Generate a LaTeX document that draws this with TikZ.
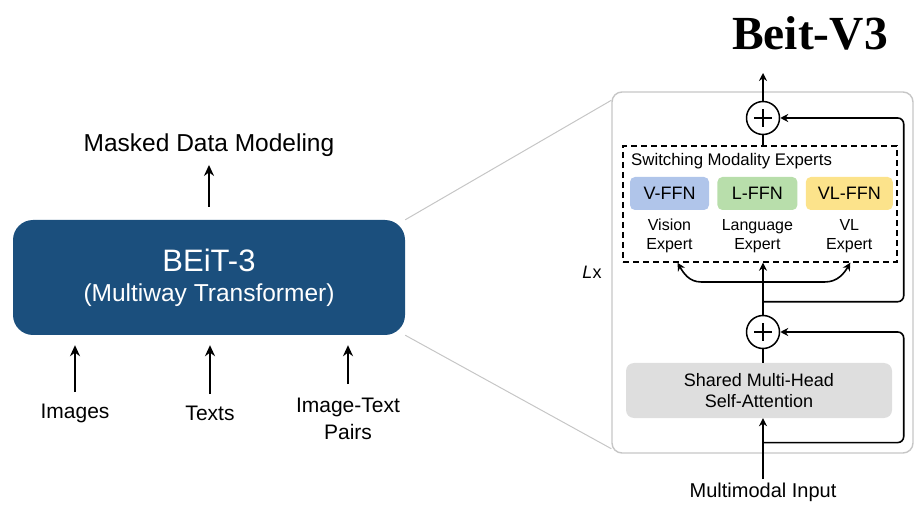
\documentclass[tikz,border=0pt]{standalone}
\usepackage{fontspec}
\setmainfont{Liberation Sans}
\newfontfamily\titlefont{Liberation Serif}
\usetikzlibrary{arrows.meta, positioning, calc}
\definecolor{beitblue}{HTML}{1B4F7D}
\definecolor{vffncol}{HTML}{B0C5EA}
\definecolor{lffncol}{HTML}{B8DEAB}
\definecolor{vlffncol}{HTML}{FCE38B}
\definecolor{attncol}{HTML}{DEDEDE}
\definecolor{panelcol}{HTML}{C6C6C6}
\tikzstyle{arrow} = [line width=2.4pt, -{Stealth[length=11pt,width=10pt]}]
\tikzstyle{thinarrow} = [line width=1.6pt, -{Stealth[length=8pt,width=8pt]}]
\tikzstyle{link} = [line width=1.6pt]
\tikzstyle{expert} = [rectangle, rounded corners=5pt, minimum height=33pt, font=\fontsize{18}{18}\selectfont]
\tikzstyle{inlabel} = [align=center, inner sep=1pt, font=\fontsize{16}{19}\selectfont]
\tikzstyle{plus} = [circle, draw, line width=1.5pt, minimum size=33pt, inner sep=0pt, fill=white,
  path picture={\draw[line width=1.3pt] ([xshift=-9pt]path picture bounding box.center) -- ([xshift=9pt]path picture bounding box.center);
                \draw[line width=1.3pt] ([yshift=-9pt]path picture bounding box.center) -- ([yshift=9pt]path picture bounding box.center);}]

\begin{document}
\begin{tikzpicture}[x=1pt, y=-1pt]
    \useasboundingbox (0,0) rectangle (922,505);

    % BEiT-3
    \node (beit) [rectangle, rounded corners=20pt, fill=beitblue, minimum width=392pt, minimum height=115pt, text=white, align=center] at (209,277.5)
        {\fontsize{31}{31}\selectfont BEiT-3\\[11pt] \fontsize{24.5}{24.5}\selectfont (Multiway Transformer)};
    \node (mdm) [font=\fontsize{24.5}{24.5}\selectfont] at (209,145) {Masked Data Modeling};

    % Entradas
    \node (img) [font=\fontsize{21}{21}\selectfont] at (75,413) {Images};
    \node (txt) [font=\fontsize{21}{21}\selectfont] at (210,413) {Texts};
    \node (pairs) [align=center, font=\fontsize{21}{27}\selectfont] at (348,418.5) {Image-Text\\Pairs};

    % Bloque
    \node (panel) [draw=panelcol, line width=1.4pt, rounded corners=10pt, minimum width=301pt, minimum height=361pt] at (762.5,272.5) {};
    \node (title) [font=\titlefont\bfseries\fontsize{47.5}{47.5}\selectfont] at (810,33) {Beit-V3};
    \node (lx) [font=\fontsize{18}{18}\selectfont] at (592,272) {\textit{L}x};
    \coordinate (out) at (763,73);
    \node (addtop) [plus] at (763,118) {};
    \node (moe) [draw, dashed, dash pattern=on 6pt off 4pt, line width=1.4pt, minimum width=274pt, minimum height=116pt] at (760,204) {};
    \node (moetitle) [anchor=west, inner sep=0pt, font=\fontsize{16.8}{16.8}\selectfont] at (631,161) {Switching Modality Experts};
    \node (vffn) [expert, fill=vffncol, minimum width=79pt] at (669.5,193.5) {V-FFN};
    \node (lffn) [expert, fill=lffncol, minimum width=80pt, right=8pt of vffn] {L-FFN};
    \node (vlffn) [expert, fill=vlffncol, minimum width=87pt, right=8pt of lffn] {VL-FFN};
    \node (vexp) [inlabel, below=8pt of vffn] {Vision\\Expert};
    \node (lexp) [inlabel, below=8pt of lffn] {Language\\Expert};
    \node (vlexp) [inlabel, below=8pt of vlffn] {VL\\Expert};
    \node (addbot) [plus] at (763,332) {};
    \node (attn) [rectangle, rounded corners=8pt, fill=attncol, minimum width=266pt, minimum height=55pt, align=center, font=\fontsize{18}{21}\selectfont] at (759,390.5) {Shared Multi-Head\\Self-Attention};
    \node (input) [font=\fontsize{20}{20}\selectfont] at (763,492) {Multimodal Input};

    \coordinate (split) at ($(addbot.north)!0.63!(addbot |- moe.south)$);
    \coordinate (res1) at ($(addbot.north)!0.25!(addbot |- moe.south)$);
    \coordinate (res2) at ($(input.north)!0.6!(input |- attn.south)$);

    % Flechas
    \draw [panelcol, line width=1pt] (beit.north east) -- ([yshift=-9pt]panel.north west);
    \draw [panelcol, line width=1pt] (beit.south east) -- ([yshift=5pt]panel.south west);
    \draw [arrow, shorten <=13pt, shorten >=5pt] (beit.north) -- (mdm.south);
    \draw [arrow, shorten <=8pt, shorten >=10pt] (img.north) -- (img.north |- beit.south);
    \draw [arrow, shorten <=8pt, shorten >=10pt] (txt.north) -- (txt.north |- beit.south);
    \draw [arrow, shorten <=10pt, shorten >=10pt] (pairs.north) -- (pairs.north |- beit.south);

    \draw [thinarrow] (addtop.north) -- (out);
    \draw [link] (addtop |- moe.north) -- (addtop.south);
    \draw [thinarrow] (addbot.north) -- (addbot |- moe.south);
    \draw [thinarrow] (split) -- ++(-62,0) to[out=180, in=-60] ([xshift=8pt]vffn.south |- moe.south);
    \draw [thinarrow] (split) -- ++(62,0) to[out=0, in=-120] ([xshift=1pt]vlffn.south |- moe.south);
    \draw [thinarrow, rounded corners=6pt] (res1) -- ([xshift=-10pt]res1 -| panel.east) |- (addtop.east);
    \draw [link] (addbot.south) -- (addbot |- attn.north);
    \draw [thinarrow] (input.north) -- (input |- attn.south);
    \draw [thinarrow, rounded corners=6pt] (res2) -- ([xshift=-10pt]res2 -| panel.east) |- (addbot.east);
\end{tikzpicture}
\end{document}
